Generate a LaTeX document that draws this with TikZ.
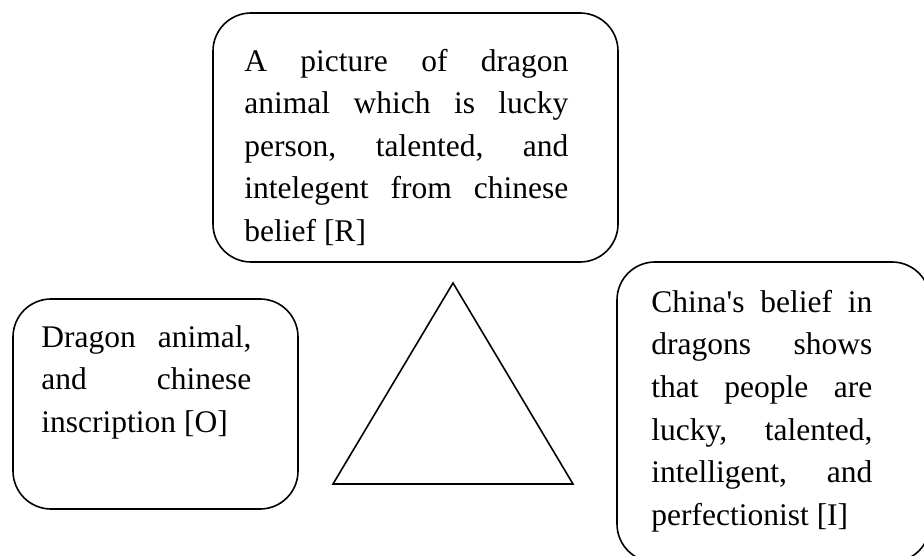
\documentclass[tikz,border=0pt]{standalone}
\usepackage{fontspec}
\newfontfamily\bubblefont{Liberation Serif}
\usetikzlibrary{positioning}

\begin{document}
\begin{tikzpicture}[x=1pt, y=-1pt,
    bubble/.style={rectangle, draw, line width=1.6pt, rounded corners=38pt, inner sep=0pt},
    bubtext/.style={inner sep=0pt, align=justify, font=\bubblefont\fontsize{31.5}{42.6}\selectfont},
    edge/.style={line width=1.6pt, line join=miter}
]
\clip (0,0) rectangle (924,556);

% Boxes
\node[bubble, minimum width=405pt, minimum height=249pt] (repr) at (415.5,137.5) {};
\node[bubble, minimum width=285pt, minimum height=210pt] (obj) at (155.5,404) {};
\node[bubble, minimum width=313pt, minimum height=300pt] (interp) at (773.5,412) {};

% Texts (first baseline placed by base west)
\node[bubtext, text width=324pt, below right=59pt and 32pt of repr.north west, anchor=base west] (reprtext)
    {A picture of dragon\linebreak animal which is lucky\linebreak person, talented, and\linebreak intelegent from chinese\linebreak belief [R]};
\node[bubtext, text width=210pt, below right=49pt and 29pt of obj.north west, anchor=base west] (objtext)
    {Dragon animal,\linebreak and chinese\linebreak inscription [O]};
\node[bubtext, text width=221pt, below right=51pt and 35pt of interp.north west, anchor=base west] (interptext)
    {China's belief in\linebreak dragons shows\linebreak that people are\linebreak lucky, talented,\linebreak intelligent, and\linebreak perfectionist [I]};

% Triangle
\coordinate (apex) at (453,283);
\coordinate (baseL) at (333,484);
\coordinate (baseR) at (573,484);
\draw[edge] (apex) -- (baseL) -- (baseR) -- cycle;

\end{tikzpicture}
\end{document}
